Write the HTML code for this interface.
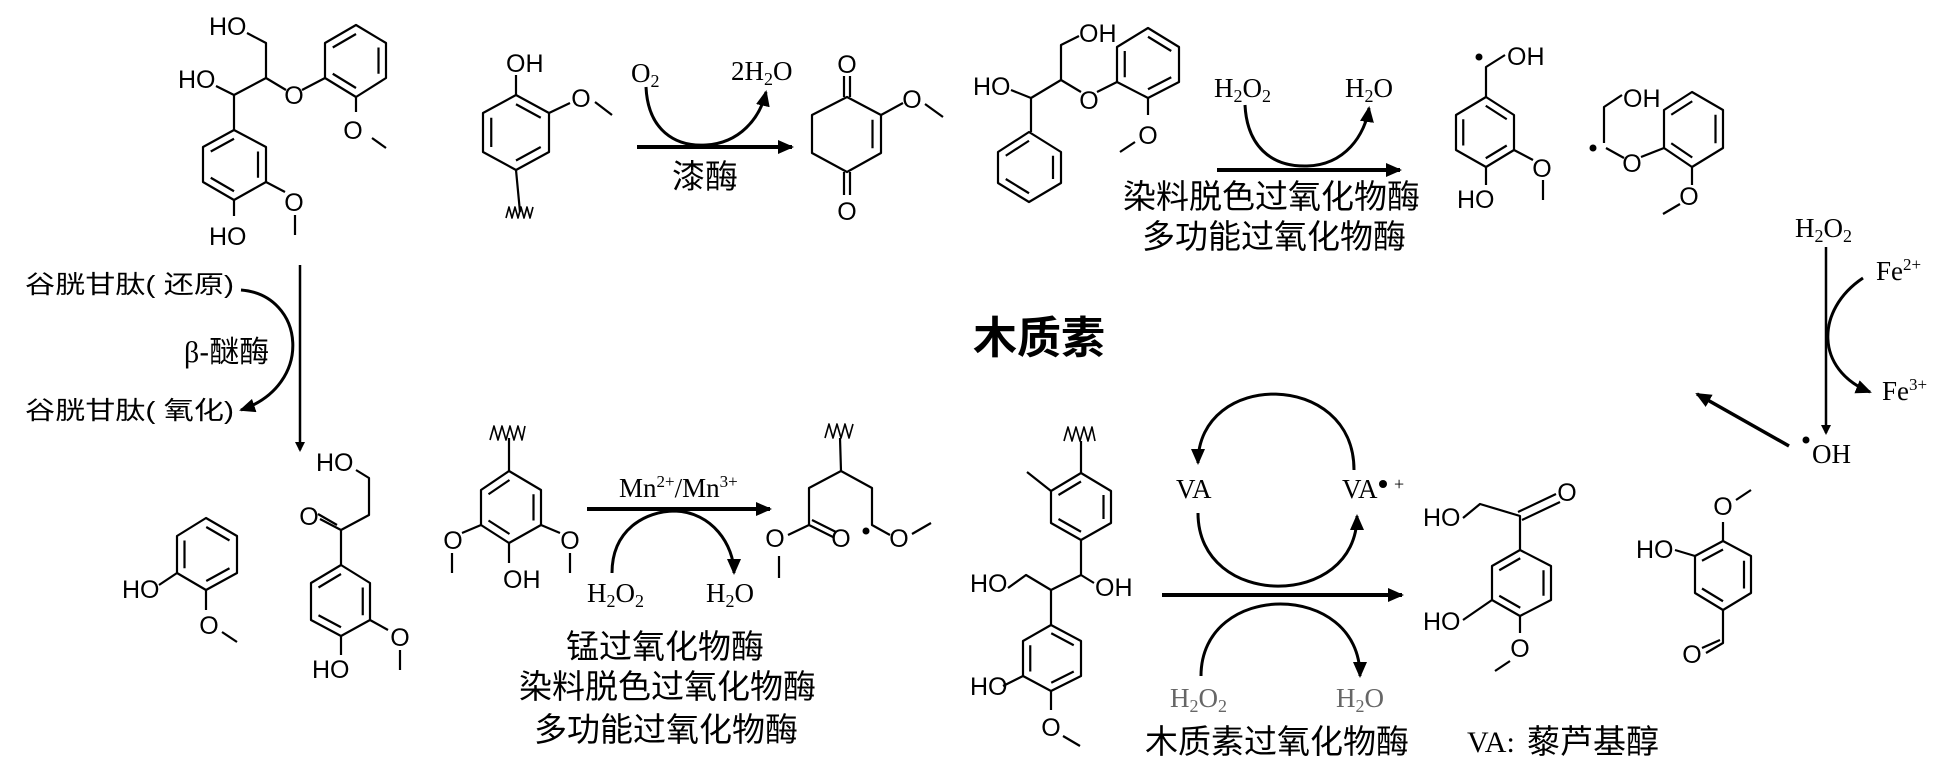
<!DOCTYPE html>
<html><head><meta charset="utf-8"><style>
html,body{margin:0;padding:0;background:#fff;}
svg{display:block}
.a{font-family:"Liberation Sans","Noto Sans CJK SC",sans-serif;font-size:25px;fill:#000}
.s{font-family:"Liberation Serif","Noto Serif CJK SC",serif;font-size:27px;fill:#000}
.z{font-family:"Liberation Sans","Noto Sans CJK SC",sans-serif;fill:#000}
</style></head><body>
<svg width="1951" height="766" viewBox="0 0 1951 766" xmlns="http://www.w3.org/2000/svg">
<defs>
<marker id="ah" markerWidth="10" markerHeight="10" refX="8" refY="5" orient="auto" markerUnits="userSpaceOnUse" viewBox="0 0 10 10">
<path d="M0,0 L10,5 L0,10 Z" fill="#000"/></marker>
<marker id="ah2" markerWidth="16" markerHeight="14" refX="14" refY="7" orient="auto" markerUnits="userSpaceOnUse" viewBox="0 0 16 14">
<path d="M0,0 L16,7 L0,14 Z" fill="#000"/></marker>
</defs>
<g fill="none" stroke="#000" stroke-width="2.2" stroke-linejoin="round">
<polygon points="356,25 386,43 386,78 356,97 325,78 325,43"/>
<g transform="translate(356,61) scale(0.75) translate(-356,-61)"><path vector-effect="non-scaling-stroke" d="M325,43L356,25M386,43L386,78M356,97L325,78"/></g>
<polygon points="234,130 266,147 266,182 234,200 203,182 203,147"/>
<g transform="translate(234,165) scale(0.75) translate(-234,-165)"><path vector-effect="non-scaling-stroke" d="M203,147L234,130M266,147L266,182M234,200L203,182"/></g>
<polygon points="516,95 549,113 549,152 516,170 483,152 483,113"/>
<g transform="translate(516,132) scale(0.75) translate(-516,-132)"><path vector-effect="non-scaling-stroke" d="M516,95L549,113M549,152L516,170M483,152L483,113"/></g>
<polygon points="847,97 881,115 881,153 847,172 812,153 812,115"/>
<g transform="translate(847,134) scale(0.75) translate(-847,-134)"><path vector-effect="non-scaling-stroke" d="M881,115L881,153"/></g>
<polygon points="1029,132 1061,152 1061,183 1029,202 998,183 998,152"/>
<g transform="translate(1029,167) scale(0.75) translate(-1029,-167)"><path vector-effect="non-scaling-stroke" d="M998,152L1029,132M1061,152L1061,183M1029,202L998,183"/></g>
<polygon points="1148,28 1179,47 1179,82 1148,98 1117,82 1117,47"/>
<g transform="translate(1148,63) scale(0.75) translate(-1148,-63)"><path vector-effect="non-scaling-stroke" d="M1148,28L1179,47M1179,82L1148,98M1117,82L1117,47"/></g>
<polygon points="1486,97 1514,115 1514,150 1486,167 1456,150 1456,115"/>
<g transform="translate(1485,132) scale(0.75) translate(-1485,-132)"><path vector-effect="non-scaling-stroke" d="M1486,97L1514,115M1514,150L1486,167M1456,150L1456,115"/></g>
<polygon points="1692,92 1723,110 1723,148 1692,167 1664,148 1664,110"/>
<g transform="translate(1693,129) scale(0.75) translate(-1693,-129)"><path vector-effect="non-scaling-stroke" d="M1664,110L1692,92M1723,110L1723,148M1692,167L1664,148"/></g>
<polygon points="206,518 237,536 237,573 206,590 177,573 177,536"/>
<g transform="translate(207,554) scale(0.75) translate(-207,-554)"><path vector-effect="non-scaling-stroke" d="M206,518L237,536M237,573L206,590M177,573L177,536"/></g>
<polygon points="341,565 370,583 370,620 341,636 311,620 311,583"/>
<g transform="translate(341,601) scale(0.75) translate(-341,-601)"><path vector-effect="non-scaling-stroke" d="M311,583L341,565M370,583L370,620M341,636L311,620"/></g>
<polygon points="509,471 541,490 541,525 509,543 481,525 481,490"/>
<g transform="translate(511,507) scale(0.75) translate(-511,-507)"><path vector-effect="non-scaling-stroke" d="M481,490L509,471M541,490L541,525M509,543L481,525"/></g>
<polygon points="1081,473 1111,491 1111,523 1081,540 1051,523 1051,491"/>
<g transform="translate(1081,507) scale(0.75) translate(-1081,-507)"><path vector-effect="non-scaling-stroke" d="M1051,491L1081,473M1111,491L1111,523M1081,540L1051,523"/></g>
<polygon points="1051,625 1081,641 1081,676 1051,691 1023,676 1023,641"/>
<g transform="translate(1052,658) scale(0.75) translate(-1052,-658)"><path vector-effect="non-scaling-stroke" d="M1051,625L1081,641M1081,676L1051,691M1023,676L1023,641"/></g>
<polygon points="1520,550 1551,566 1551,600 1520,616 1492,600 1492,566"/>
<g transform="translate(1521,583) scale(0.75) translate(-1521,-583)"><path vector-effect="non-scaling-stroke" d="M1492,566L1520,550M1551,566L1551,600M1520,616L1492,600"/></g>
<polygon points="1723,541 1751,556 1751,593 1723,610 1695,593 1695,556"/>
<g transform="translate(1723,575) scale(0.75) translate(-1723,-575)"><path vector-effect="non-scaling-stroke" d="M1695,556L1723,541M1751,556L1751,593M1723,610L1695,593"/></g>

<path d="M247,33L266,43L266,78L234,95L234,130M216,86L234,95M266,78L286,90M302,90L325,78M356,97L356,112M372,138L386,148M234,200L234,216M266,182L285,192M295,215L295,235"/>
<path d="M516,95L516,75M549,113L570,103M595,102L612,115M516,170L520,212"/>
<polyline points="506,218 509,207 512,218 515,207 518,218 521,207 524,218 527,207 530,218 533,207" stroke-width="1.6"/>
<path d="M844,97L844,76M850,97L850,76M844,172L844,195M850,172L850,195M881,115L903,103M925,104L943,117"/>
<path d="M1079,36L1061,45L1061,80L1031,98L1031,132M1011,90L1031,98M1061,80L1081,92M1097,92L1117,82M1148,98L1148,115M1135,142L1120,152"/>
<path d="M1486,97L1486,67L1505,55M1486,167L1486,185M1514,150L1533,160M1543,180L1543,200M1604,143L1604,107L1622,95M1606,148L1624,158M1641,157L1664,148M1692,167L1692,185M1680,204L1663,214"/>
<path d="M159,585L177,573M206,590L206,610M222,632L237,642M356,470L369,478L369,515L341,530L341,565M341,530L320,519M337,525L318,514M341,636L341,655M370,620L388,630M400,650L400,670"/>
<path d="M509,438L509,471M481,525L462,533M452,553L452,573M541,525L560,533M570,553L570,573M509,543L509,563"/>
<polyline points="490,440 494,426 498,440 502,426 506,440 510,426 514,440 518,426 522,440 525,426" stroke-width="1.6"/>
<path d="M840,438L841,471L809,488L809,525L788,535M809,525L833,537M812,520L836,532M841,471L872,488L872,525L890,535M912,534L931,523M779,556L779,578"/>
<polyline points="825,438 829,424 833,438 837,424 841,438 845,424 849,438 853,424" stroke-width="1.6"/>
<path d="M1081,441L1081,473M1051,491L1027,472M1081,540L1081,575L1051,590L1026,575L1008,588M1081,575L1094,583M1051,590L1051,625M1003,686L1023,676M1051,691L1051,710M1063,736L1080,746"/>
<polyline points="1064,441 1068,427 1072,441 1076,427 1080,441 1084,427 1088,441 1092,427 1095,441" stroke-width="1.6"/>
<path d="M1463,518L1480,504L1520,516L1520,550M1522,520L1560,502M1518,512L1556,494M1463,620L1492,600M1520,616L1520,633M1510,661L1495,671M1723,541L1723,522M1736,500L1751,490M1675,550L1695,556M1723,610L1723,643L1706,653M1720,640L1702,648"/>

<line x1="637" y1="147" x2="792" y2="147" stroke-width="4" marker-end="url(#ah2)"/>
<path d="M646,87 C648,130 675,147 706,145 C740,143 760,118 766,92" stroke-width="3" marker-end="url(#ah2)"/>
<line x1="1217" y1="170" x2="1400" y2="170" stroke-width="4" marker-end="url(#ah2)"/>
<path d="M1245,105 C1247,145 1270,167 1307,166 C1345,165 1365,135 1369,108" stroke-width="3" marker-end="url(#ah2)"/>
<line x1="300" y1="265" x2="300" y2="450" stroke-width="2.5" marker-end="url(#ah)"/>
<path d="M241,290 C305,295 315,385 241,410" stroke-width="3" marker-end="url(#ah2)"/>
<line x1="587" y1="509" x2="770" y2="509" stroke-width="4" marker-end="url(#ah2)"/>
<path d="M612,573 C612,530 645,511 675,511 C712,512 734,545 734,573" stroke-width="3" marker-end="url(#ah2)"/>
<line x1="1826" y1="247" x2="1826" y2="433" stroke-width="2.5" marker-end="url(#ah)"/>
<path d="M1863,278 C1815,310 1815,370 1870,392" stroke-width="3" marker-end="url(#ah2)"/>
<line x1="1789" y1="446" x2="1697" y2="394" stroke-width="3.5" marker-end="url(#ah2)"/>
<line x1="1162" y1="595" x2="1402" y2="595" stroke-width="4" marker-end="url(#ah2)"/>
<path d="M1354,470 C1354,370 1198,370 1198,463" stroke-width="3" marker-end="url(#ah2)"/>
<path d="M1198,513 C1198,610 1357,610 1357,516" stroke-width="3" marker-end="url(#ah2)"/>
<path d="M1201,676 C1201,580 1360,580 1360,676" stroke-width="3" marker-end="url(#ah2)"/>
</g>

<g class="a">
<text x="209" y="35">HO</text><text x="178" y="88">HO</text>
<text x="294" y="104" text-anchor="middle">O</text><text x="353" y="139" text-anchor="middle">O</text>
<text x="294" y="211" text-anchor="middle">O</text><text x="209" y="245">HO</text>
<text x="506" y="72">OH</text><text x="581" y="107" text-anchor="middle">O</text>
<text x="847" y="73" text-anchor="middle">O</text><text x="847" y="220" text-anchor="middle">O</text><text x="912" y="108" text-anchor="middle">O</text>
<text x="1079" y="42">OH</text><text x="973" y="95">HO</text><text x="1089" y="109" text-anchor="middle">O</text><text x="1148" y="144" text-anchor="middle">O</text>
<text x="1507" y="65">OH</text><text x="1457" y="208">HO</text><text x="1542" y="177" text-anchor="middle">O</text>
<text x="1623" y="107">OH</text><text x="1632" y="172" text-anchor="middle">O</text><text x="1689" y="205" text-anchor="middle">O</text>
<text x="122" y="598">HO</text><text x="209" y="634" text-anchor="middle">O</text>
<text x="316" y="471">HO</text><text x="309" y="525" text-anchor="middle">O</text><text x="312" y="678">HO</text><text x="400" y="646" text-anchor="middle">O</text>
<text x="453" y="549" text-anchor="middle">O</text><text x="570" y="549" text-anchor="middle">O</text><text x="503" y="588">OH</text>
<text x="775" y="547" text-anchor="middle">O</text><text x="841" y="547" text-anchor="middle">O</text><text x="899" y="547" text-anchor="middle">O</text>
<text x="970" y="592">HO</text><text x="1095" y="596">OH</text><text x="970" y="695">HO</text><text x="1051" y="736" text-anchor="middle">O</text>
<text x="1423" y="526">HO</text><text x="1567" y="501" text-anchor="middle">O</text><text x="1423" y="630">HO</text><text x="1520" y="657" text-anchor="middle">O</text>
<text x="1723" y="515" text-anchor="middle">O</text><text x="1636" y="558">HO</text><text x="1692" y="663" text-anchor="middle">O</text>
</g>
<g fill="#000"><circle cx="1479" cy="57" r="3.5"/><circle cx="1593" cy="148" r="3.5"/><circle cx="866" cy="531" r="3.5"/><circle cx="1806" cy="440" r="3.5"/><circle cx="1383" cy="484" r="4"/></g>

<g class="s">
<text x="631" y="82">O<tspan font-size="18" dy="5">2</tspan></text>
<text x="731" y="80">2H<tspan font-size="18" dy="5">2</tspan><tspan dy="-5">O</tspan></text>
<text x="1214" y="97">H<tspan font-size="18" dy="5">2</tspan><tspan dy="-5">O</tspan><tspan font-size="18" dy="5">2</tspan></text>
<text x="1345" y="97">H<tspan font-size="18" dy="5">2</tspan><tspan dy="-5">O</tspan></text>
<text x="1795" y="237">H<tspan font-size="18" dy="5">2</tspan><tspan dy="-5">O</tspan><tspan font-size="18" dy="5">2</tspan></text>
<text x="1876" y="280">Fe<tspan font-size="17" dy="-10">2+</tspan></text>
<text x="1882" y="400">Fe<tspan font-size="17" dy="-10">3+</tspan></text>
<text x="1812" y="463">OH</text>
<text x="619" y="497">Mn<tspan font-size="17" dy="-10">2+</tspan><tspan dy="10">/Mn</tspan><tspan font-size="17" dy="-10">3+</tspan></text>
<text x="587" y="602">H<tspan font-size="18" dy="5">2</tspan><tspan dy="-5">O</tspan><tspan font-size="18" dy="5">2</tspan></text>
<text x="706" y="602">H<tspan font-size="18" dy="5">2</tspan><tspan dy="-5">O</tspan></text>
<text x="1176" y="498">VA</text><text x="1342" y="498">VA</text><text x="1394" y="490" font-size="18">+</text>
<text x="1170" y="707" fill="#666">H<tspan font-size="18" dy="5">2</tspan><tspan dy="-5">O</tspan><tspan font-size="18" dy="5">2</tspan></text>
<text x="1336" y="707" fill="#666">H<tspan font-size="18" dy="5">2</tspan><tspan dy="-5">O</tspan></text>
<text x="1467" y="752" font-size="30">VA:</text>
</g>

<g class="z">
<text x="25" y="293" font-size="25" textLength="209" lengthAdjust="spacingAndGlyphs">谷胱甘肽( 还原)</text>
<text x="184" y="362" font-size="30"><tspan font-family="Liberation Serif">β</tspan>-醚酶</text>
<text x="25" y="419" font-size="25" textLength="209" lengthAdjust="spacingAndGlyphs">谷胱甘肽( 氧化)</text>
<text x="672" y="188" font-size="33">漆酶</text>
<text x="1123" y="208" font-size="33">染料脱色过氧化物酶</text>
<text x="1142" y="248" font-size="33">多功能过氧化物酶</text>
<text x="973" y="353" font-size="44" font-weight="bold">木质素</text>
<text x="566" y="658" font-size="33">锰过氧化物酶</text>
<text x="519" y="698" font-size="33">染料脱色过氧化物酶</text>
<text x="534" y="741" font-size="33">多功能过氧化物酶</text>
<text x="1145" y="753" font-size="33">木质素过氧化物酶</text>
<text x="1527" y="753" font-size="33">藜芦基醇</text>
</g>
</svg>
</body></html>
